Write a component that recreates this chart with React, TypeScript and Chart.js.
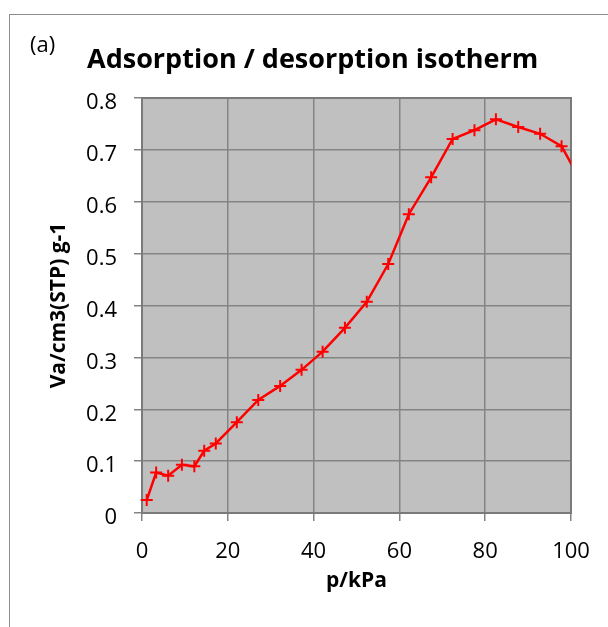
import React, { useEffect, useRef } from "react";
import { Chart, registerables } from "chart.js";

Chart.register(...registerables);

// Isotherm data: pressure (kPa) and adsorbed volume (cm3(STP)/g)
const pressureKPa = [
  1.1, 3.3, 6.1, 9.3, 12.2, 14.5, 17.2, 22.1, 27.1, 32.2, 37.2, 42.1,
  47.3, 52.4, 57.4, 62.2, 67.4, 72.4, 77.5, 82.5, 87.7, 92.8, 97.8, 102.9,
];
const adsorbedVolume = [
  0.025, 0.078, 0.072, 0.093, 0.09, 0.12, 0.134, 0.175, 0.218, 0.245, 0.276,
  0.311, 0.357, 0.407, 0.48, 0.576, 0.647, 0.721, 0.738, 0.759, 0.744, 0.731,
  0.707, 0.63,
];

const xRange = [0, 100];
const xStep = 20;
const yRange = [0, 0.8];
const yStep = 0.1;

const chartTitle = "Adsorption / desorption isotherm";
const panelTag = "(a)";
const xAxisTitle = "p/kPa";
const yAxisTitle = "Va/cm3(STP) g-1";

const FONT = '"Open Sans", sans-serif';
const GRID = "#848484";

// Grey plot background and a frame around the plot area
const plotFrame = {
  id: "plotFrame",
  beforeDraw(chart: any) {
    const { ctx, chartArea } = chart;
    ctx.save();
    ctx.fillStyle = "#C0C0C0";
    ctx.fillRect(chartArea.left, chartArea.top, chartArea.width, chartArea.height);
    ctx.restore();
  },
  beforeDatasetsDraw(chart: any) {
    const { ctx, chartArea } = chart;
    ctx.save();
    ctx.strokeStyle = "#7a7a7a";
    ctx.lineWidth = 2;
    ctx.strokeRect(chartArea.left, chartArea.top, chartArea.width, chartArea.height);
    ctx.restore();
  },
};

// Chart heading and panel tag
const heading = {
  id: "heading",
  afterDraw(chart: any) {
    const { ctx } = chart;
    ctx.save();
    ctx.fillStyle = "#000";
    ctx.textBaseline = "alphabetic";
    ctx.textAlign = "left";
    ctx.font = `bold 27px ${FONT}`;
    ctx.fillText(chartTitle, 87, 68);
    ctx.font = `22px ${FONT}`;
    ctx.fillText(panelTag, 30, 52);
    ctx.restore();
  },
};

function IsothermChart() {
  const canvasRef = useRef<HTMLCanvasElement | null>(null);

  useEffect(() => {
    if (!canvasRef.current) return;
    const points = pressureKPa.map((p, i) => ({ x: p, y: adsorbedVolume[i] }));
    const chart = new Chart(canvasRef.current, {
      type: "scatter",
      data: {
        datasets: [
          {
            data: points,
            showLine: true,
            borderColor: "#FF0000",
            backgroundColor: "#FF0000",
            borderWidth: 2.5,
            pointStyle: "cross",
            pointRadius: 6,
            pointBorderWidth: 2,
            pointBorderColor: "#FF0000",
            pointHoverRadius: 6,
            clip: { left: 10, top: 10, right: 0, bottom: 10 },
          } as any,
        ],
      },
      options: {
        responsive: false,
        animation: false,
        events: [],
        layout: { padding: { top: 98, right: 37, left: 0, bottom: 0 } },
        plugins: {
          legend: { display: false },
          tooltip: { enabled: false },
          title: { display: false },
        },
        scales: {
          x: {
            type: "linear",
            min: xRange[0],
            max: xRange[1],
            ticks: {
              stepSize: xStep,
              color: "#000",
              font: { family: FONT, size: 22 },
              padding: 18,
              maxRotation: 0,
            },
            grid: { color: GRID, lineWidth: 1.5, tickLength: 8, tickColor: GRID },
            border: { display: false },
            title: {
              display: true,
              text: xAxisTitle,
              color: "#000",
              font: { family: FONT, size: 21, weight: "bold" },
              padding: { top: 0, bottom: 33 },
            },
            afterFit(scale: any) {
              scale.height = 114;
            },
          },
          y: {
            type: "linear",
            min: yRange[0],
            max: yRange[1],
            ticks: {
              stepSize: yStep,
              color: "#000",
              font: { family: FONT, size: 22 },
              padding: 17,
              labelOffset: 5,
            },
            grid: { color: GRID, lineWidth: 1.5, tickLength: 8, tickColor: GRID },
            border: { display: false },
            title: {
              display: true,
              text: yAxisTitle,
              color: "#000",
              font: { family: FONT, size: 21, weight: "bold" },
              padding: { top: 46, bottom: 0 },
            },
            afterFit(scale: any) {
              scale.width = 142;
            },
          },
        },
      },
      plugins: [plotFrame, heading],
    });
    return () => chart.destroy();
  }, []);

  return (
    <canvas
      ref={canvasRef}
      width={608}
      height={627}
      style={{ position: "absolute", left: 0, top: 0, display: "block" }}
    />
  );
}

export default function App() {
  return (
    <div
      style={{
        position: "fixed",
        left: 0,
        top: 0,
        width: 608,
        height: 627,
        overflow: "hidden",
        background: "#fff",
      }}
    >
      <div
        style={{
          position: "absolute",
          left: 9,
          top: 14,
          width: 700,
          height: 700,
          border: "1px solid #8c8c8c",
        }}
      />
      <IsothermChart />
    </div>
  );
}
